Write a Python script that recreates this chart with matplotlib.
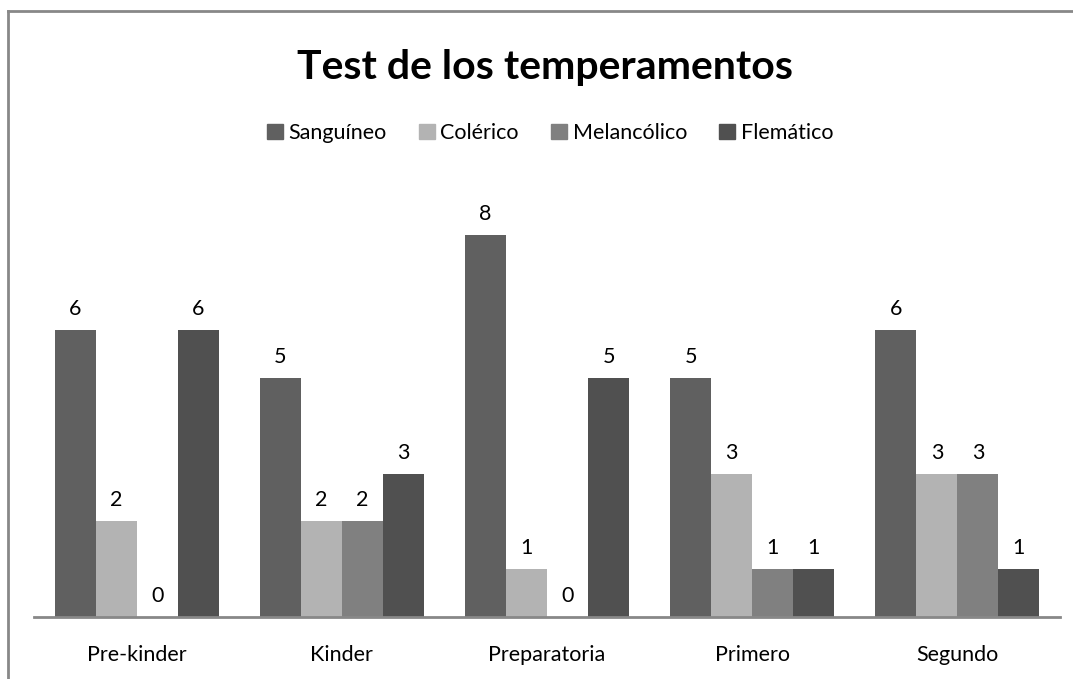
import matplotlib.pyplot as plt
import numpy as np
from matplotlib.lines import Line2D

plt.rcParams['font.family'] = ['Lato', 'DejaVu Sans']

categories = ['Pre-kinder', 'Kinder', 'Preparatoria', 'Primero', 'Segundo']
series = ['Sanguíneo', 'Colérico', 'Melancólico', 'Flemático']
sanguineo = [6, 5, 8, 5, 6]
colerico = [2, 2, 1, 3, 3]
melancolico = [0, 2, 0, 1, 3]
flematico = [6, 3, 5, 1, 1]
colors = ['#606060', '#b3b3b3', '#808080', '#505050']

W, H = 1073, 679
fig = plt.figure(figsize=(W / 100, H / 100), dpi=100)

# plot area in pixel terms
left, right, bottom, top = 34, 1060, 617, 187
ax = fig.add_axes([left / W, 1 - bottom / H, (right - left) / W, (bottom - top) / H])

x = np.arange(len(categories))
width = 0.2
values = [sanguineo, colerico, melancolico, flematico]
for i, (name, vals) in enumerate(zip(series, values)):
    pos = x + (i - 1.5) * width
    bars = ax.bar(pos, vals, width, color=colors[i], label=name, linewidth=0)
    for xp, v in zip(pos, vals):
        ax.annotate(str(v), (xp, v), xytext=(0, 8), textcoords='offset points',
                    ha='center', va='bottom', fontsize=15.5)

ax.set_xlim(-0.5, len(categories) - 0.5)
ax.set_ylim(0, 9)
ax.set_xticks(x)
ax.set_xticklabels(categories, fontsize=15.5)
ax.tick_params(axis='x', length=0, pad=20)
ax.set_yticks([])
for s in ['top', 'right', 'left']:
    ax.spines[s].set_visible(False)
ax.spines['bottom'].set_color('#888888')
ax.spines['bottom'].set_linewidth(2)

fig.text(545 / W, 1 - 67 / H, 'Test de los temperamentos', ha='center', va='center',
         fontsize=29.5, fontweight='bold')

handles = [plt.Rectangle((0, 0), 1, 1, color=c) for c in colors]
fig.legend(handles, series, loc='center', bbox_to_anchor=(550 / W, 1 - 133 / H),
           ncol=4, frameon=False, fontsize=15.5, handlelength=0.75, handleheight=0.75,
           handletextpad=0.25, columnspacing=1.5)

# outer chart frame (only top and left edges visible)
fig.add_artist(Line2D([8 / W, 8 / W], [0, 1 - 11 / H], transform=fig.transFigure,
                      color='#888888', lw=2))
fig.add_artist(Line2D([8 / W, 1], [1 - 11 / H, 1 - 11 / H], transform=fig.transFigure,
                      color='#888888', lw=2))

fig.savefig('out.png', dpi=100)
